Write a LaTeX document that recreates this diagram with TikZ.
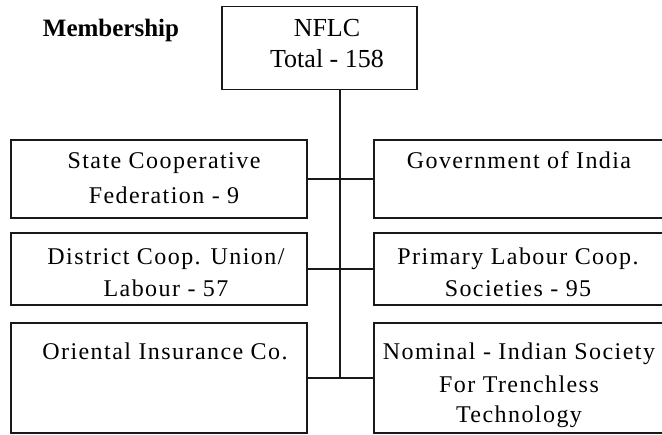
\documentclass[tikz,border=0pt]{standalone}
\usepackage{fontspec}
\setmainfont{Liberation Serif}
\newfontfamily\boxfont[LetterSpace=6]{Liberation Serif}
\begin{document}
\begin{tikzpicture}[x=1pt,y=-1pt,
  box/.style={draw=black!90, line width=1.7pt, rectangle, inner sep=0pt},
  conn/.style={draw=black!90, line width=1.7pt},
  txt/.style={anchor=base, inner sep=0pt, font=\boxfont\fontsize{24}{28}\selectfont, text=black},
  toptxt/.style={anchor=base, inner sep=0pt, font=\fontsize{26}{30}\selectfont, text=black}]
\useasboundingbox[fill=white] (0,0) rectangle (662,435);

% boxes
\node[box, minimum width=195pt, minimum height=83pt] (nflc) at (319.5,48) {};
\node[box, minimum width=296pt, minimum height=78pt] (sc) at (159,179) {};
\node[box, minimum width=296pt, minimum height=72pt] (dc) at (159,269) {};
\node[box, minimum width=296pt, minimum height=110pt] (oi) at (159,378) {};
\node[box, minimum width=290pt, minimum height=78pt] (gi) at (519,179) {};
\node[box, minimum width=290pt, minimum height=72pt] (pl) at (519,269) {};
\node[box, minimum width=290pt, minimum height=110pt] (nm) at (519,378) {};

% texts
\node[toptxt, font=\bfseries\fontsize{25}{30}\selectfont] (mem) at (111,37) {Membership};
\node[toptxt] (nflc1) at (327,37) {NFLC};
\node[toptxt] (nflc2) at (327,68) {Total - 158};

\node[txt] (sc1) at (164,169) {State Cooperative};
\node[txt] (sc2) at (164,204) {Federation - 9};
\node[txt] (dc1) at (166,265) {District Coop. Union/};
\node[txt] (dc2) at (166,297) {Labour - 57};
\node[txt] (oi1) at (165,360) {Oriental Insurance Co.};

\node[txt] (gi1) at (519,169) {Government of India};
\node[txt] (pl1) at (518,265) {Primary Labour Coop.};
\node[txt] (pl2) at (518,297) {Societies - 95};
\node[txt] (nm1) at (519,360) {Nominal - Indian Society};
\node[txt] (nm2) at (519,393) {For Trenchless};
\node[txt] (nm3) at (519,423) {Technology};

% connectors
\coordinate (trunk) at (340,0);
\draw[conn] (nflc.south -| trunk) -- (oi.east -| trunk);
\draw[conn] (sc.east) -- (gi.west);
\draw[conn] (dc.east) -- (pl.west);
\draw[conn] (oi.east) -- (nm.west);
\end{tikzpicture}
\end{document}
